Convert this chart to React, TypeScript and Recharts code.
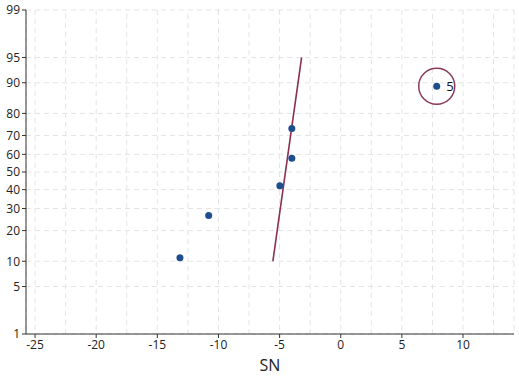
import React from "react";
import {
  ScatterChart, Scatter, XAxis, YAxis, CartesianGrid, ReferenceLine, ReferenceDot, LabelList, Label,
} from "recharts";

// observations (SN) and their median-rank probability in %
const snValues = [-13.15, -10.8, -4.98, -4.0, -4.0, 7.85];
const probValues = [10.9, 26.6, 42.2, 57.8, 73.4, 89.1];
const pointLabels = ["", "", "", "", "", "5"];
// the highlighted (circled) point
const outlierIndex = 5;

// fitted line end points
const fitSN = [-5.55, -3.2];
const fitProb = [10, 95];

const xTicks = [-25, -20, -15, -10, -5, 0, 5, 10];
const xGrid = [-22.5, -17.5, -12.5, -7.5, -2.5, 2.5, 7.5, 12.5];
const probTicks = [1, 5, 10, 20, 30, 40, 50, 60, 70, 80, 90, 95, 99];

// inverse normal CDF (Acklam)
function normInv(p: number) {
  const a = [-39.6968302866538, 220.946098424521, -275.928510446969, 138.357751867269, -30.6647980661472, 2.50662827745924];
  const b = [-54.4760987982241, 161.585836858041, -155.698979859887, 66.8013118877197, -13.2806815528857];
  const c = [-0.00778489400243029, -0.322396458041136, -2.40075827716184, -2.54973253934373, 4.37466414146497, 2.93816398269878];
  const d = [0.00778469570904146, 0.32246712907004, 2.445134137143, 3.75440866190742];
  const lo = 0.02425;
  if (p < lo) {
    const q = Math.sqrt(-2 * Math.log(p));
    return (((((c[0] * q + c[1]) * q + c[2]) * q + c[3]) * q + c[4]) * q + c[5]) / ((((d[0] * q + d[1]) * q + d[2]) * q + d[3]) * q + 1);
  }
  if (p > 1 - lo) {
    const q = Math.sqrt(-2 * Math.log(1 - p));
    return -(((((c[0] * q + c[1]) * q + c[2]) * q + c[3]) * q + c[4]) * q + c[5]) / ((((d[0] * q + d[1]) * q + d[2]) * q + d[3]) * q + 1);
  }
  const q = p - 0.5;
  const r = q * q;
  return (((((a[0] * r + a[1]) * r + a[2]) * r + a[3]) * r + a[4]) * r + a[5]) * q / (((((b[0] * r + b[1]) * r + b[2]) * r + b[3]) * r + b[4]) * r + 1);
}

const z = (pct: number) => normInv(pct / 100);

const points = snValues.map((x, i) => ({ x, y: z(probValues[i]), label: pointLabels[i] }));
const yTicks = probTicks.map(z);
const tickLabel = (v: number) => {
  const i = yTicks.findIndex((t) => Math.abs(t - v) < 1e-6);
  return i >= 0 ? String(probTicks[i]) : "";
};

const FONT = "'Open Sans', 'Noto Sans', sans-serif";
const AXIS = "#333";
const GRID = "#e4e4e4";
const tick = { fill: "#222", fontSize: 12, fontFamily: FONT };

export default function App() {
  const outlier = points[outlierIndex];
  return (
    <div style={{ position: "absolute", left: 0, top: 0, background: "#fff" }}>
      <ScatterChart width={519} height={376} margin={{ top: 10, right: 5, bottom: 0, left: 0 }}>
        <CartesianGrid stroke={GRID} strokeDasharray="5 4" />
        {xGrid.map((g) => (
          <ReferenceLine key={g} x={g} stroke={GRID} strokeDasharray="5 4" />
        ))}
        <XAxis
          type="number" dataKey="x" domain={[-25.74, 14.17]} ticks={xTicks} allowDataOverflow
          tick={tick} tickSize={4} tickMargin={2} stroke={AXIS} height={42}
        >
          <Label value="SN" position="insideBottom" offset={5} style={{ fontSize: 16, fontFamily: FONT, fill: "#222" }} />
        </XAxis>
        <XAxis xAxisId="top" orientation="top" type="number" domain={[0, 1]} tick={false} tickLine={false} stroke={AXIS} height={0} />
        <YAxis
          type="number" dataKey="y" domain={[yTicks[0], yTicks[yTicks.length - 1]]} ticks={yTicks} allowDataOverflow
          tickFormatter={tickLabel} tick={tick} tickSize={4} tickMargin={2} stroke={AXIS} width={26} interval={0}
        />
        <YAxis yAxisId="right" orientation="right" type="number" domain={[0, 1]} tick={false} tickLine={false} stroke={AXIS} width={0} />
        <ReferenceLine
          segment={[{ x: fitSN[0], y: z(fitProb[0]) }, { x: fitSN[1], y: z(fitProb[1]) }]}
          stroke="#8a2f52" strokeWidth={1.6}
        />
        <ReferenceDot x={outlier.x} y={outlier.y} r={18} fill="none" stroke="#8a3a55" strokeWidth={1.5} />
        <Scatter data={points} fill="#1f4e8f" isAnimationActive={false} shape={(p: any) => <circle cx={p.cx} cy={p.cy} r={3.5} fill="#1f4e8f" />}>
          <LabelList dataKey="label" position="right" offset={5} style={{ fontSize: 13, fontFamily: FONT, fill: "#111" }} />
        </Scatter>
      </ScatterChart>
    </div>
  );
}
